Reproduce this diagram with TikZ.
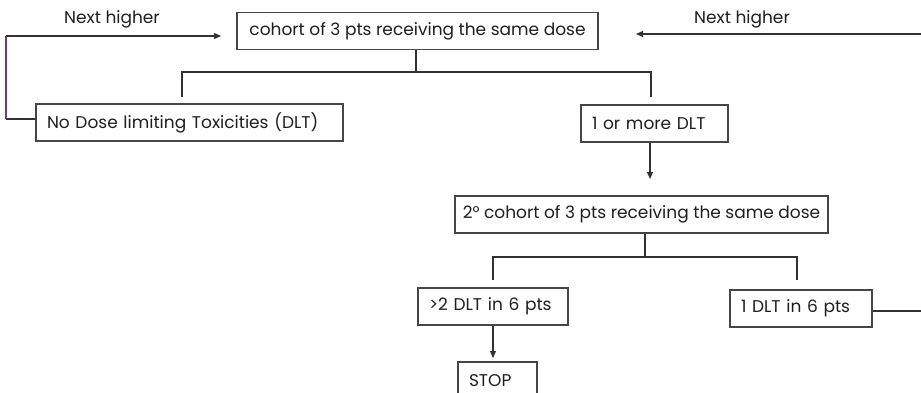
\documentclass[tikz,border=0pt]{standalone}
\usepackage{fontspec}
\setmainfont{Poppins}
\usetikzlibrary{arrows.meta}
\definecolor{linec}{RGB}{50,50,50}
\definecolor{boxc}{RGB}{70,70,70}
\definecolor{txtc}{RGB}{30,30,30}
\definecolor{loopc}{RGB}{110,60,110}
\tikzset{
  box/.style={draw=boxc, line width=1.3pt, rectangle, minimum height=37pt, inner sep=0pt,
    font=\fontsize{17}{19}\selectfont, text=txtc},
  conn/.style={draw=linec, line width=1.2pt},
  arr/.style={conn, -{Triangle[length=7pt,width=6pt]}},
  lbl/.style={font=\fontsize{17}{19}\selectfont, text=txtc, inner sep=0pt}
}
\begin{document}
\begin{tikzpicture}[x=1pt,y=-1pt]
\useasboundingbox (0,0) rectangle (921,392);
\clip (0,0) rectangle (921,392);
\node[box, minimum width=361pt] (b1) at (417.5,31) {cohort of 3 pts receiving the same dose};
\node[box, minimum width=307pt, text width=285pt, align=left] (b2) at (189.5,122.5) {No Dose limiting Toxicities (DLT)};
\node[box, minimum width=147pt, text width=125pt, align=left] (b3) at (654.5,123.5) {1 or more DLT};
\node[box, minimum width=373pt] (b4) at (641.5,214.5) {2° cohort of 3 pts receiving the same dose};
\node[box, minimum width=150pt, text width=128pt, align=left] (b5) at (493,306.5) {>2 DLT in 6 pts};
\node[box, minimum width=142pt, text width=120pt, align=left] (b6) at (801,308.5) {1 DLT in 6 pts};
\node[box, minimum width=79pt, text width=57pt, align=left] (b7) at (497.5,380.5) {STOP};
\node[lbl] (n1) at (112,19) {Next higher};
\node[lbl] (n2) at (742,19) {Next higher};
% coordinates
\coordinate (j1) at (416,72);
\coordinate (l1) at (182,72);
\coordinate (r1) at (651,72);
\coordinate (l1d) at (182,97);
\coordinate (r1d) at (651,97);
\coordinate (lp0) at (36,119);
\coordinate (lp1) at (6,119);
\coordinate (lp2) at (6,36);
\coordinate (lp3) at (221,36);
\coordinate (rp0) at (921,34);
\coordinate (rp1) at (636,34);
\coordinate (a3) at (650,179);
\coordinate (j2) at (645,257);
\coordinate (l2) at (493,257);
\coordinate (r2) at (797,257);
\coordinate (l2d) at (493,280);
\coordinate (r2d) at (797,280);
\coordinate (a5) at (493,358);
\coordinate (e6) at (921,311);
% connectors
\draw[conn] (b1.south -| j1) -- (j1);
\draw[conn] (l1d) -- (l1) -- (r1) -- (r1d);
\draw[conn] (lp0) -- (lp1);
\draw[conn, draw=loopc] (lp1) -- (lp2);
\draw[arr] (lp2) -- (lp3);
\draw[arr] (rp0) -- (rp1);
\draw[arr] (b3.south -| a3) -- (a3);
\draw[conn] (b4.south -| j2) -- (j2);
\draw[conn] (l2d) -- (l2) -- (r2) -- (r2d);
\draw[arr] (b5.south) -- (a5);
\draw[conn] (b6.east |- e6) -- (e6);
\end{tikzpicture}
\end{document}
